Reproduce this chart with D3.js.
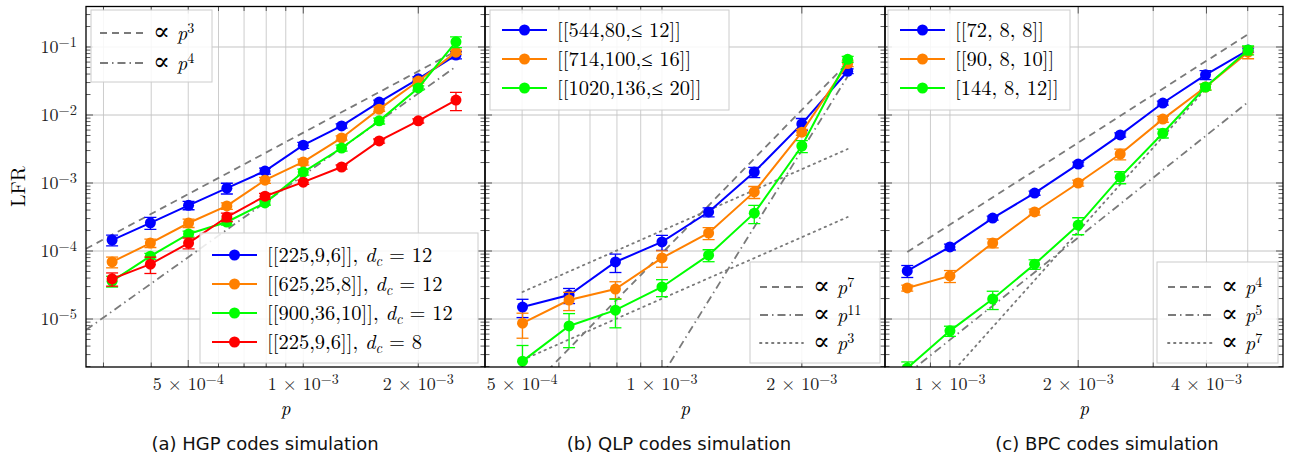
<!DOCTYPE html>
<html>
<head>
<meta charset="utf-8">
<script src="https://cdn.jsdelivr.net/npm/d3@7"></script>
<style>
  body { margin: 0; background: #fff; }
  svg { display: block; }
</style>
</head>
<body>
<script>
// ---- data ----

// (a) HGP codes
const hgpP = [3.16e-4, 3.98e-4, 5.01e-4, 6.31e-4, 7.94e-4, 1e-3, 1.26e-3, 1.58e-3, 2e-3, 2.51e-3];
const hgp225 = [1.45e-4, 2.6e-4, 4.7e-4, 8.4e-4, 1.5e-3, 3.6e-3, 6.9e-3, 1.55e-2, 3.4e-2, 7.6e-2];
const hgp625 = [6.9e-5, 1.31e-4, 2.58e-4, 4.6e-4, 1.1e-3, 2.04e-3, 4.6e-3, 1.22e-2, 3.16e-2, 8.4e-2];
const hgp900 = [3.6e-5, 8.4e-5, 1.78e-4, 2.67e-4, 5.1e-4, 1.45e-3, 3.27e-3, 8.2e-3, 2.5e-2, 1.19e-1];
const hgp225dc8 = [3.9e-5, 6.4e-5, 1.31e-4, 3.16e-4, 6.4e-4, 1.03e-3, 1.72e-3, 4.15e-3, 8.2e-3, 1.66e-2];
// relative error bar half-widths
const hgp225Err = [0.18, 0.2, 0.14, 0.18, 0.1, 0.1, 0.07, 0.07, 0.07, 0.12];
const hgp625Err = [0.18, 0.14, 0.14, 0.11, 0.1, 0.1, 0.07, 0.07, 0.07, 0.07];
const hgp900Err = [0.18, 0.1, 0.1, 0.1, 0.07, 0.1, 0.1, 0.1, 0.07, 0.18];
const hgp225dc8Err = [0.22, 0.27, 0.18, 0.14, 0.1, 0.07, 0.07, 0.07, 0.07, 0.3];
const hgpNames = ["[[225,9,6]], ", "[[625,25,8]], ", "[[900,36,10]], ", "[[225,9,6]], "];
const hgpDc = ["12", "12", "12", "8"];
// reference power laws: exponent, end points (p, LFR)
const hgpRefExp = ["3", "4"];
const hgpRefP = [[2.7e-4, 2.51e-3], [2.7e-4, 2.51e-3]];
const hgpRefV = [[1.08e-4, 8.7e-2], [6.9e-6, 5.16e-2]];

// (b) QLP codes
const qlpP = [5.01e-4, 6.31e-4, 7.94e-4, 1e-3, 1.26e-3, 1.58e-3, 2e-3, 2.51e-3];
const qlp544 = [1.5e-5, 2.25e-5, 6.9e-5, 1.36e-4, 3.75e-4, 1.45e-3, 7.4e-3, 4.4e-2];
const qlp714 = [8.7e-6, 1.9e-5, 2.76e-5, 7.9e-5, 1.84e-4, 7.4e-4, 5.6e-3, 5.7e-2];
const qlp1020 = [2.4e-6, 7.9e-6, 1.35e-5, 2.96e-5, 8.7e-5, 3.6e-4, 3.5e-3, 6.6e-2];
const qlp544Err = [0.3, 0.25, 0.3, 0.25, 0.15, 0.17, 0.2, 0.08];
const qlp714Err = [0.4, 0.3, 0.28, 0.27, 0.2, 0.2, 0.1, 0.1];
const qlp1020Err = [0.7, 0.52, 0.45, 0.28, 0.2, 0.3, 0.2, 0.1];
const qlpNames = ["[[544,80,\u2264 12]]", "[[714,100,\u2264 16]]", "[[1020,136,\u2264 20]]"];
const qlpRefExp = ["7", "11", "3", "3"];
const qlpRefP = [[5.01e-4, 2.51e-3], [5.01e-4, 2.51e-3], [5.01e-4, 2.51e-3], [5.01e-4, 2.51e-3]];
const qlpRefV = [[7.3e-7, 5.86e-2], [7.2e-10, 3.7e-2], [2.5e-5, 3.16e-3], [2.5e-6, 3.16e-4]];

// (c) BPC codes
const bpcP = [7.94e-4, 1e-3, 1.26e-3, 1.58e-3, 2e-3, 2.51e-3, 3.16e-3, 3.98e-3, 5.01e-3];
const bpc72 = [5.1e-5, 1.15e-4, 3.05e-4, 7.1e-4, 1.9e-3, 5.1e-3, 1.5e-2, 3.9e-2, 9.0e-2];
const bpc90 = [2.86e-5, 4.3e-5, 1.31e-4, 3.75e-4, 1.0e-3, 2.67e-3, 8.7e-3, 2.58e-2, 8.4e-2];
const bpc144 = [1.9e-6, 6.7e-6, 1.97e-5, 6.4e-5, 2.41e-4, 1.22e-3, 5.4e-3, 2.58e-2, 9.0e-2];
const bpc72Err = [0.2, 0.1, 0.07, 0.07, 0.07, 0.07, 0.07, 0.15, 0.07];
const bpc90Err = [0.1, 0.2, 0.15, 0.1, 0.1, 0.18, 0.1, 0.1, 0.2];
const bpc144Err = [0.23, 0.17, 0.3, 0.16, 0.28, 0.2, 0.15, 0.1, 0.15];
const bpcNames = ["[[72, 8, 8]]", "[[90, 8, 10]]", "[144, 8, 12]]"];
const bpcRefExp = ["4", "5", "7"];
const bpcRefP = [[7.94e-4, 5.01e-3], [7.94e-4, 5.01e-3], [7.94e-4, 3.98e-3]];
const bpcRefV = [[9.7e-5, 1.54e-1], [1.56e-6, 1.55e-2], [3.0e-7, 2.4e-2]];

const yDomain = [1.97e-6, 0.394];
const yMajor = [1e-1, 1e-2, 1e-3, 1e-4, 1e-5];
const captions = ["(a) HGP codes simulation", "(b) QLP codes simulation", "(c) BPC codes simulation"];

// ---- drawing ----
const W = 1293, H = 466;
const plotTop = 6.5, plotBottom = 367;
const serif = "'Latin Modern Roman','CMU Serif','Liberation Serif','DejaVu Serif',serif";
const sans = "'DejaVu Sans','Noto Sans',sans-serif";
const colors = ["#0000ff", "#ff8000", "#00ff00", "#ff0000"];
const dashes = { "dashed": "7,5", "dashdot": "8,4,1.5,4", "dotted": "1.5,4.5" };
const grey = "#7a7a7a";

const svg = d3.select("body").append("svg").attr("width", W).attr("height", H)
  .style("font-family", serif);

const y = d3.scaleLog().domain(yDomain).range([plotBottom, plotTop]);

const panels = [
  {
    x0: 86, x1: 485, domain: [2.70e-4, 2.99e-3], labels: [5e-4, 1e-3, 2e-3],
    series: [[hgp225, hgp225Err], [hgp625, hgp625Err], [hgp900, hgp900Err], [hgp225dc8, hgp225dc8Err]].map((s, i) =>
      ({ p: hgpP, v: s[0], err: s[1], color: colors[i] })),
    refs: hgpRefExp.map((e, i) => ({ exp: e, p: hgpRefP[i], v: hgpRefV[i], dash: ["dashed", "dashdot"][i] })),
    refBox: { x: 91, y: 10, w: 121, h: 72, rows: [33, 63], lx: [100, 143], tx: 153 },
    serBox: { x: 200, y: 233, w: 278, h: 130, rows: [255, 284, 313, 342], lx: [212, 257], tx: 267 },
    serLabel: i => [{ t: hgpNames[i] }, { t: "d", it: true }, { t: "c", it: true, sub: true }, { t: " = " + hgpDc[i] }],
    captionX: 265
  },
  {
    x0: 485, x1: 885, domain: [4.16e-4, 3.02e-3], labels: [5e-4, 1e-3, 2e-3],
    series: [[qlp544, qlp544Err], [qlp714, qlp714Err], [qlp1020, qlp1020Err]].map((s, i) =>
      ({ p: qlpP, v: s[0], err: s[1], color: colors[i] })),
    refs: qlpRefExp.map((e, i) => ({ exp: e, p: qlpRefP[i], v: qlpRefV[i], dash: ["dashed", "dashdot", "dotted", "dotted"][i] })),
    refBox: { x: 750, y: 262, w: 130, h: 101, rows: [287, 315, 343], lx: [760, 803], tx: 813 },
    serBox: { x: 490, y: 10, w: 239, h: 100, rows: [30, 59, 88], lx: [502, 547], tx: 557 },
    serLabel: i => [{ t: qlpNames[i] }],
    captionX: 679
  },
  {
    x0: 885, x1: 1283, domain: [7.04e-4, 6.05e-3], labels: [1e-3, 2e-3, 4e-3],
    series: [[bpc72, bpc72Err], [bpc90, bpc90Err], [bpc144, bpc144Err]].map((s, i) =>
      ({ p: bpcP, v: s[0], err: s[1], color: colors[i] })),
    refs: bpcRefExp.map((e, i) => ({ exp: e, p: bpcRefP[i], v: bpcRefV[i], dash: ["dashed", "dashdot", "dotted"][i] })),
    refBox: { x: 1157, y: 262, w: 121, h: 101, rows: [287, 315, 343], lx: [1168, 1213], tx: 1221 },
    serBox: { x: 888, y: 10, w: 182, h: 100, rows: [30, 59, 88], lx: [900, 945], tx: 955 },
    serLabel: i => [{ t: bpcNames[i] }],
    captionX: 1107
  }
];

// writes a list of text pieces (italic / sup / sub) into a text element
function richText(sel, pieces, size, supScale) {
  let shift = 0;
  pieces.forEach(pc => {
    const ts = sel.append("tspan").text(pc.t);
    let target = pc.sup ? -Math.round(size * 0.36) : pc.sub ? Math.round(size * 0.2) : 0;
    ts.attr("dy", target - shift);
    shift = target;
    if (pc.it) ts.attr("font-style", "italic");
    if (pc.sym) ts.attr("font-family", "'DejaVu Serif',serif").attr("font-size", size * 1.25);
    if (pc.sup || pc.sub) ts.attr("font-size", size * (supScale || 0.7));
  });
}

function sci(v) {
  const e = Math.floor(Math.log10(v) + 1e-9);
  const m = Math.round(v / Math.pow(10, e));
  return { m, e };
}

panels.forEach((pn, k) => {
  const x = d3.scaleLog().domain(pn.domain).range([pn.x0, pn.x1]);
  const g = svg.append("g");
  const clipId = "clip" + k;
  svg.append("clipPath").attr("id", clipId).append("rect")
    .attr("x", pn.x0).attr("y", plotTop).attr("width", pn.x1 - pn.x0).attr("height", plotBottom - plotTop);

  // grid
  const xt = x.ticks().filter(t => x(t) > pn.x0 + 3 && x(t) < pn.x1 - 3);
  g.append("g").selectAll("line").data(xt).join("line")
    .attr("x1", d => x(d)).attr("x2", d => x(d)).attr("y1", plotTop).attr("y2", plotBottom)
    .attr("stroke", "#cdcdcd").attr("stroke-width", 1);
  g.append("g").selectAll("line").data(yMajor).join("line")
    .attr("x1", pn.x0).attr("x2", pn.x1).attr("y1", d => y(d)).attr("y2", d => y(d))
    .attr("stroke", "#c4c4c4").attr("stroke-width", 1);

  // ticks (inside, all four sides)
  const yt = y.ticks();
  const tk = g.append("g").attr("stroke", "#333").attr("stroke-width", 0.8);
  yt.forEach(t => {
    const len = yMajor.includes(t) ? 7 : 4.5;
    tk.append("line").attr("x1", pn.x0).attr("x2", pn.x0 + len).attr("y1", y(t)).attr("y2", y(t));
    tk.append("line").attr("x1", pn.x1).attr("x2", pn.x1 - len).attr("y1", y(t)).attr("y2", y(t));
  });
  xt.forEach(t => {
    const len = pn.labels.some(l => Math.abs(l - t) < 1e-12) ? 7 : 4.5;
    tk.append("line").attr("x1", x(t)).attr("x2", x(t)).attr("y1", plotBottom).attr("y2", plotBottom - len);
    tk.append("line").attr("x1", x(t)).attr("x2", x(t)).attr("y1", plotTop).attr("y2", plotTop + len);
  });

  const clipped = g.append("g").attr("clip-path", `url(#${clipId})`);

  // reference power laws
  pn.refs.forEach(r => {
    clipped.append("path")
      .attr("d", d3.line().x(d => x(d[0])).y(d => y(d[1]))(d3.zip(r.p, r.v)))
      .attr("fill", "none").attr("stroke", grey).attr("stroke-width", 1.8)
      .attr("stroke-dasharray", dashes[r.dash])
      .attr("stroke-linecap", r.dash === "dotted" ? "round" : "butt");
  });

  // series
  pn.series.forEach(s => {
    const pts = s.p.map((p, i) => ({ p, v: s.v[i], e: s.err[i] }));
    const sg = clipped.append("g");
    sg.append("path")
      .attr("d", d3.line().x(d => x(d.p)).y(d => y(d.v))(pts))
      .attr("fill", "none").attr("stroke", s.color).attr("stroke-width", 2);
    const eb = sg.append("g").attr("stroke", s.color).attr("stroke-width", 1.3);
    pts.forEach(d => {
      const cx = x(d.p), lo = y(d.v * (1 - d.e)), hi = y(d.v * (1 + d.e));
      eb.append("line").attr("x1", cx).attr("x2", cx).attr("y1", lo).attr("y2", hi);
      eb.append("line").attr("x1", cx - 6).attr("x2", cx + 6).attr("y1", lo).attr("y2", lo);
      eb.append("line").attr("x1", cx - 6).attr("x2", cx + 6).attr("y1", hi).attr("y2", hi);
    });
    sg.selectAll("circle").data(pts).join("circle")
      .attr("cx", d => x(d.p)).attr("cy", d => y(d.v)).attr("r", 5.5)
      .attr("fill", s.color);
  });

  // frame
  g.append("rect").attr("x", pn.x0).attr("y", plotTop).attr("width", pn.x1 - pn.x0).attr("height", plotBottom - plotTop)
    .attr("fill", "none").attr("stroke", "#000").attr("stroke-width", 1.3);

  // x tick labels
  pn.labels.forEach(t => {
    const { m, e } = sci(t);
    const tx = g.append("text").attr("x", x(t)).attr("y", 390).attr("text-anchor", "middle")
      .attr("font-size", 18).attr("fill", "#222");
    richText(tx, [{ t: m + " \u00d7 10" }, { t: "\u2212" + (-e), sup: true }], 18, 0.78);
  });
  g.append("text").attr("x", (pn.x0 + pn.x1) / 2).attr("y", 415).attr("text-anchor", "middle")
    .attr("font-size", 19).attr("font-style", "italic").text("p");

  // caption
  svg.append("text").attr("x", pn.captionX).attr("y", 450).attr("text-anchor", "middle")
    .attr("font-family", sans).attr("font-size", 18).attr("fill", "#111").text(captions[k]);

  // legends
  function box(b) {
    g.append("rect").attr("x", b.x).attr("y", b.y).attr("width", b.w).attr("height", b.h)
      .attr("fill", "#fff").attr("fill-opacity", 0.85).attr("stroke", "#cccccc").attr("stroke-width", 1);
  }
  box(pn.refBox);
  pn.refs.slice(0, pn.refBox.rows.length).forEach((r, i) => {
    const ry = pn.refBox.rows[i];
    const b = pn.refBox;
    g.append("line").attr("x1", b.lx[0]).attr("x2", b.lx[1]).attr("y1", ry).attr("y2", ry)
      .attr("stroke", grey).attr("stroke-width", 1.8).attr("stroke-dasharray", dashes[r.dash])
      .attr("stroke-linecap", r.dash === "dotted" ? "round" : "butt");
    const t = g.append("text").attr("x", b.tx).attr("y", ry + 7).attr("font-size", 20);
    richText(t, [{ t: "\u221d", sym: true }, { t: " p", it: true }, { t: r.exp, sup: true }], 20);
  });
  // QLP has two p^3 guides but one legend row, fine as drawn above
  box(pn.serBox);
  pn.series.forEach((s, i) => {
    const b = pn.serBox, ry = b.rows[i];
    g.append("line").attr("x1", b.lx[0]).attr("x2", b.lx[1]).attr("y1", ry).attr("y2", ry)
      .attr("stroke", s.color).attr("stroke-width", 2);
    g.append("circle").attr("cx", (b.lx[0] + b.lx[1]) / 2).attr("cy", ry).attr("r", 5.5).attr("fill", s.color);
    const t = g.append("text").attr("x", b.tx).attr("y", ry + 7).attr("font-size", 20.5);
    richText(t, pn.serLabel(i), 20.5);
  });

  // y labels only on first panel
  if (k === 0) {
    yMajor.forEach(t => {
      const e = Math.round(Math.log10(t));
      const tx = g.append("text").attr("x", 77).attr("y", y(t) + 6).attr("text-anchor", "end")
        .attr("font-size", 18).attr("fill", "#222");
      richText(tx, [{ t: "10" }, { t: "\u2212" + (-e), sup: true }], 18, 0.8);
    });
  }
});

svg.append("text").attr("transform", `translate(25,${(plotTop + plotBottom) / 2}) rotate(-90)`)
  .attr("text-anchor", "middle").attr("font-size", 20).text("LFR");
</script>
</body>
</html>
